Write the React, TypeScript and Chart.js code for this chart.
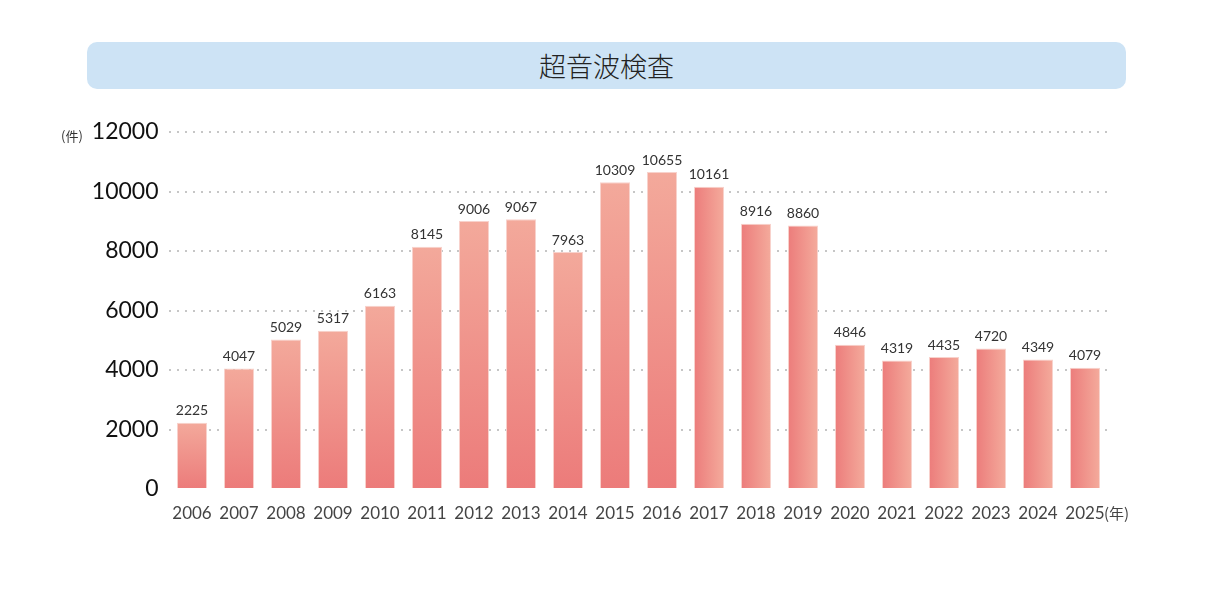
import React, { useEffect, useRef } from "react";
import Chart from "chart.js/auto";

const titleText = "超音波検査";
const years = ["2006", "2007", "2008", "2009", "2010", "2011", "2012", "2013", "2014", "2015", "2016", "2017", "2018", "2019", "2020", "2021", "2022", "2023", "2024", "2025"];
const counts = [2225, 4047, 5029, 5317, 6163, 8145, 9006, 9067, 7963, 10309, 10655, 10161, 8916, 8860, 4846, 4319, 4435, 4720, 4349, 4079];
const yTicks = [0, 2000, 4000, 6000, 8000, 10000, 12000];
const yUnit = "(件)";
const xUnit = "(年)";
const horizontalFrom = 11;

const NUM_FONT = "Lato, 'DejaVu Sans', sans-serif";
const CJK_FONT = "'Noto Sans CJK JP', 'Noto Sans', sans-serif";
const BAR_PCT = 0.64;

export default function App() {
  const canvasRef = useRef<HTMLCanvasElement | null>(null);

  useEffect(() => {
    const canvas = canvasRef.current;
    if (!canvas) return;

    const labelPlugin = {
      id: "valueLabels",
      afterDatasetsDraw(chart: any) {
        const meta = chart.getDatasetMeta(0);
        const c = chart.ctx;
        c.save();
        c.font = `400 14px ${NUM_FONT}`;
        c.fillStyle = "#333333";
        c.textAlign = "center";
        c.textBaseline = "bottom";
        meta.data.forEach((el: any, i: number) => {
          c.fillText(String(counts[i]), el.x, el.y - 5);
        });
        c.restore();
      },
    };

    const chart = new Chart(canvas, {
      type: "bar",
      data: {
        labels: years,
        datasets: [
          {
            data: counts,
            borderWidth: 1,
            borderColor: "#f8d2cc",
            backgroundColor: (ctx: any) => {
              const ch = ctx.chart;
              const area = ch.chartArea;
              if (!area || ctx.type !== "data") return "#ef8f88";
              const xs = ch.scales.x;
              const ys = ch.scales.y;
              const i = ctx.dataIndex;
              const g = ch.ctx;
              if (i >= horizontalFrom) {
                const cx = xs.getPixelForValue(i);
                const half = ((xs.width / years.length) * BAR_PCT) / 2;
                const gr = g.createLinearGradient(cx - half, 0, cx + half, 0);
                gr.addColorStop(0, "#ec7c7b");
                gr.addColorStop(1, "#f4ab9c");
                return gr;
              }
              const top = ys.getPixelForValue(counts[i]);
              const bottom = ys.getPixelForValue(0);
              const gr = g.createLinearGradient(0, top, 0, bottom);
              gr.addColorStop(0, "#f3a99b");
              gr.addColorStop(1, "#ec7b7a");
              return gr;
            },
            categoryPercentage: 1,
            barPercentage: BAR_PCT,
          },
        ],
      },
      options: {
        animation: false,
        responsive: false,
        maintainAspectRatio: false,
        events: [],
        layout: { padding: { left: 0, right: 102.5, top: 132, bottom: 60 } },
        plugins: {
          legend: { display: false },
          tooltip: { enabled: false },
          title: { display: false },
        },
        scales: {
          x: {
            grid: { display: false, drawTicks: false },
            border: { display: false },
            afterFit: (s: any) => {
              s.height = 45;
            },
            ticks: {
              padding: 14,
              color: "#444444",
              font: { family: NUM_FONT, size: 17 },
              maxRotation: 0,
              autoSkip: false,
            },
          },
          y: {
            min: 0,
            max: 12000,
            afterBuildTicks: (s: any) => {
              s.ticks = yTicks.map((v) => ({ value: v }));
            },
            afterFit: (s: any) => {
              s.width = 168.5;
            },
            grid: {
              drawTicks: false,
              lineWidth: 2,
              color: (c: any) => (c.tick && c.tick.value === 0 ? "rgba(0,0,0,0)" : "#c6c6c6"),
            },
            border: { display: false, dash: [2, 6] },
            ticks: {
              padding: 10,
              color: "#111111",
              font: { family: NUM_FONT, size: 23 },
              callback: (v: any) => String(v),
            },
          },
        },
      },
      plugins: [labelPlugin],
    } as any);

    return () => chart.destroy();
  }, []);

  return (
    <div style={{ position: "absolute", left: 0, top: 0, width: 1211, height: 594, background: "#ffffff", overflow: "hidden" }}>
      <div
        style={{
          position: "absolute",
          left: 87,
          top: 42,
          width: 1039,
          height: 47,
          borderRadius: 10,
          background: "#cde3f5",
          display: "flex",
          alignItems: "center",
          justifyContent: "center",
          fontFamily: CJK_FONT,
          fontSize: 27,
          fontWeight: 300,
          color: "#222222",
        }}
      >
        {titleText}
      </div>
      <canvas ref={canvasRef} width={1211} height={594} style={{ position: "absolute", left: 0, top: 0, width: 1211, height: 594 }} />
      <div style={{ position: "absolute", left: 61, top: 127, fontFamily: CJK_FONT, fontSize: 13, color: "#333333", lineHeight: "18px" }}>{yUnit}</div>
      <div style={{ position: "absolute", left: 1104, top: 503, fontFamily: CJK_FONT, fontSize: 15, color: "#444444", lineHeight: "20px" }}>{xUnit}</div>
    </div>
  );
}
